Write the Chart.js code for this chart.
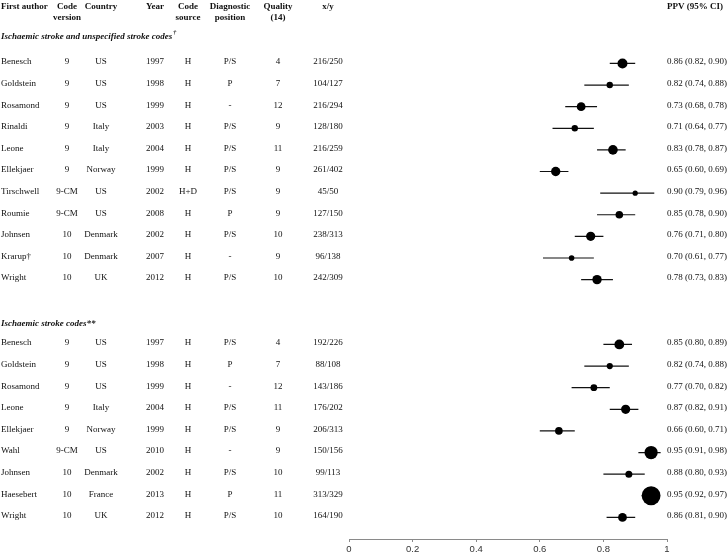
<!DOCTYPE html>
<html>
<head>
<meta charset="utf-8">
<script src="https://cdn.jsdelivr.net/npm/chart.js@4/dist/chart.umd.min.js"></script>
<style>
html,body{margin:0;padding:0;background:#fff;}
canvas{display:block;}
</style>
</head>
<body>
<canvas id="c" width="727" height="554"></canvas>
<script>
// ---------- DATA ----------
const headers = [
  ["First author"], ["Code", "version"], ["Country"], ["Year"], ["Code", "source"],
  ["Diagnostic", "position"], ["Quality", "(14)"], ["x/y"]
];
const ciHeader = "PPV (95% CI)";
const section1Title = "Ischaemic stroke and unspecified stroke codes";
const section1Mark = "\u2020";
const section2Title = "Ischaemic stroke codes**";

const authors1 = ["Benesch","Goldstein","Rosamond","Rinaldi","Leone","Ellekjaer","Tirschwell","Roumie","Johnsen","Krarup\u2020","Wright"];
const version1 = ["9","9","9","9","9","9","9-CM","9-CM","10","10","10"];
const country1 = ["US","US","US","Italy","Italy","Norway","US","US","Denmark","Denmark","UK"];
const year1 = ["1997","1998","1999","2003","2004","1999","2002","2008","2002","2007","2012"];
const source1 = ["H","H","H","H","H","H","H+D","H","H","H","H"];
const position1 = ["P/S","P","-","P/S","P/S","P/S","P/S","P","P/S","-","P/S"];
const quality1 = ["4","7","12","9","11","9","9","9","10","9","10"];
const xy1 = ["216/250","104/127","216/294","128/180","216/259","261/402","45/50","127/150","238/313","96/138","242/309"];
const ppv1 = [0.86,0.82,0.73,0.71,0.83,0.65,0.90,0.85,0.76,0.70,0.78];
const lo1  = [0.82,0.74,0.68,0.64,0.78,0.60,0.79,0.78,0.71,0.61,0.73];
const hi1  = [0.90,0.88,0.78,0.77,0.87,0.69,0.96,0.90,0.80,0.77,0.83];
const weight1 = [5.0,3.2,4.4,3.2,4.8,4.7,2.6,3.8,4.6,2.8,4.7];

const authors2 = ["Benesch","Goldstein","Rosamond","Leone","Ellekjaer","Wahl","Johnsen","Haesebert","Wright"];
const version2 = ["9","9","9","9","9","9-CM","10","10","10"];
const country2 = ["US","US","US","Italy","Norway","US","Denmark","France","UK"];
const year2 = ["1997","1998","1999","2004","1999","2010","2002","2013","2012"];
const source2 = ["H","H","H","H","H","H","H","H","H"];
const position2 = ["P/S","P","-","P/S","P/S","-","P/S","P","P/S"];
const quality2 = ["4","7","12","11","9","9","10","11","10"];
const xy2 = ["192/226","88/108","143/186","176/202","206/313","150/156","99/113","313/329","164/190"];
const ppv2 = [0.85,0.82,0.77,0.87,0.66,0.95,0.88,0.95,0.86];
const lo2  = [0.80,0.74,0.70,0.82,0.60,0.91,0.80,0.92,0.81];
const hi2  = [0.89,0.88,0.82,0.91,0.71,0.98,0.93,0.97,0.90];
const weight2 = [4.9,3.1,3.4,4.6,3.8,6.6,3.5,9.4,4.4];

const xTicks = [0, 0.2, 0.4, 0.6, 0.8, 1];

// ---------- LAYOUT ----------
const ROW1 = 0;          // first row index of section 1
const ROW2 = 13;         // first row index of section 2
const rows1 = authors1.map((_, i) => ROW1 + i);
const rows2 = authors2.map((_, i) => ROW2 + i);

const colX = { author: 1, version: 67, country: 101, year: 155, source: 188, position: 230, quality: 278, xy: 328, ci: 667 };
const fmt = v => v.toFixed(2);
const ciText = (p, l, h) => `${fmt(p)} (${fmt(l)}, ${fmt(h)})`;

const FONT = '"Liberation Serif", "Times New Roman", serif';
const SIZE = 9;

// ---------- DATASETS ----------
const datasets = [];
function addCI(lo, hi, rows) {
  lo.forEach((l, i) => {
    datasets.push({
      type: 'line',
      data: [{x: l, y: rows[i]}, {x: hi[i], y: rows[i]}],
      borderColor: '#111', borderWidth: 1.2, pointRadius: 0, fill: false, order: 2
    });
  });
}
addCI(lo1, hi1, rows1);
addCI(lo2, hi2, rows2);
datasets.push({
  type: 'scatter',
  data: ppv1.map((p, i) => ({x: p, y: rows1[i]})).concat(ppv2.map((p, i) => ({x: p, y: rows2[i]}))),
  pointRadius: weight1.concat(weight2),
  pointHoverRadius: weight1.concat(weight2),
  backgroundColor: '#000', borderWidth: 0, order: 0
});

// ---------- TABLE PLUGIN ----------
const tablePlugin = {
  id: 'table',
  afterDraw(chart) {
    const ctx = chart.ctx;
    const ys = chart.scales.y;
    ctx.save();
    ctx.fillStyle = '#111';
    ctx.textBaseline = 'middle';

    // column headers
    ctx.font = `bold ${SIZE}px ${FONT}`;
    const keys = ['author','version','country','year','source','position','quality','xy'];
    headers.forEach((lines, j) => {
      ctx.textAlign = j === 0 ? 'left' : 'center';
      lines.forEach((t, li) => ctx.fillText(t, colX[keys[j]], 6.5 + li * 11));
    });
    ctx.textAlign = 'left';
    ctx.fillText(ciHeader, colX.ci, 6.5);

    // section titles
    ctx.font = `italic bold ${SIZE}px ${FONT}`;
    const y1 = ys.getPixelForValue(ROW1 - 1.25);
    ctx.fillText(section1Title, colX.author, y1);
    const w1 = ctx.measureText(section1Title).width;
    ctx.font = `italic bold ${SIZE * 0.65}px ${FONT}`;
    ctx.fillText(section1Mark, colX.author + w1 + 1, y1 - 4);
    ctx.font = `italic bold ${SIZE}px ${FONT}`;
    ctx.fillText(section2Title, colX.author, ys.getPixelForValue(ROW2 - 0.95));

    // rows
    ctx.font = `${SIZE}px ${FONT}`;
    function drawRows(rows, a, v, c, yr, s, p, q, xy, ppv, lo, hi) {
      rows.forEach((r, i) => {
        const y = ys.getPixelForValue(r) - 1.5;
        ctx.textAlign = 'left';
        ctx.fillText(a[i], colX.author, y);
        ctx.textAlign = 'center';
        ctx.fillText(v[i], colX.version, y);
        ctx.fillText(c[i], colX.country, y);
        ctx.fillText(yr[i], colX.year, y);
        ctx.fillText(s[i], colX.source, y);
        ctx.fillText(p[i], colX.position, y);
        ctx.fillText(q[i], colX.quality, y);
        ctx.fillText(xy[i], colX.xy, y);
        ctx.textAlign = 'left';
        ctx.fillText(ciText(ppv[i], lo[i], hi[i]), colX.ci, y);
      });
    }
    drawRows(rows1, authors1, version1, country1, year1, source1, position1, quality1, xy1, ppv1, lo1, hi1);
    drawRows(rows2, authors2, version2, country2, year2, source2, position2, quality2, xy2, ppv2, lo2, hi2);
    ctx.restore();
  }
};

new Chart(document.getElementById('c'), {
  type: 'scatter',
  data: { datasets },
  options: {
    responsive: false,
    animation: false,
    events: [],
    layout: { padding: { left: 349, right: 60, top: 7, bottom: 0 } },
    plugins: { legend: { display: false }, tooltip: { enabled: false } },
    scales: {
      x: {
        type: 'linear', position: 'bottom', min: 0, max: 1,
        afterBuildTicks(s) { s.ticks = xTicks.map(v => ({ value: v })); },
        afterFit(s) { s.height = 15; },
        grid: { display: true, drawOnChartArea: false, drawTicks: true, tickLength: 3, color: '#8a8a8a', lineWidth: 1 },
        border: { display: true, color: '#8a8a8a', width: 1 },
        ticks: {
          padding: 2, color: '#333', maxRotation: 0, autoSkip: false,
          font: { family: '"Liberation Sans", Arial, sans-serif', size: 9.5 },
          callback: v => String(+v.toFixed(1))
        }
      },
      y: { type: 'linear', min: -2.5, max: 22, reverse: true, display: false }
    }
  },
  plugins: [tablePlugin]
});
</script>
</body>
</html>
